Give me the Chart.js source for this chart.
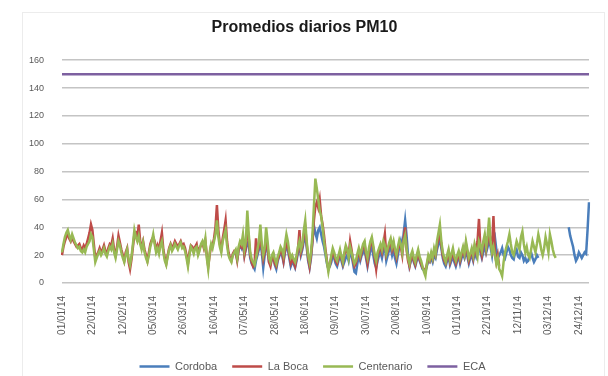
<!DOCTYPE html>
<html>
<head>
<meta charset="utf-8">
<script src="https://cdn.jsdelivr.net/npm/chart.js@4/dist/chart.umd.min.js"></script>
<style>
  html, body { margin: 0; padding: 0; background: #fff; }
  #wrap { width: 608px; height: 376px; }
</style>
</head>
<body>
<div id="wrap"><canvas id="graficoPM10" width="608" height="376"></canvas></div>
<script>
// Promedios diarios de PM10 (ug/m3) por estación, año 2014
const centenario = [
  22, 28, 33, 36, 38, 34, 31, 35, 32, 29,
  27, 25, 26, 23, 22, 24, 22, 26, 28, 30,
  35, 33, 24, 15, 18, 21, 23, 20, 22, 25,
  21, 19, 23, 26, 24, 28, 22, 18, 24, 30,
  27, 22, 18, 15, 20, 24, 17, 13, 19, 28,
  38, 33, 30, 34, 28, 24, 29, 22, 18, 15,
  20, 26, 30, 35, 28, 22, 25, 21, 27, 30,
  22, 16, 13, 19, 24, 27, 23, 25, 28, 26,
  24, 27, 29, 25, 26, 23, 18, 12, 20, 26,
  24, 21, 25, 26, 20, 23, 28, 30, 26, 32,
  18, 10, 22, 28, 25, 30, 35, 45, 33, 26,
  22, 30, 34, 38, 27, 20, 17, 15, 20, 22,
  24, 18, 26, 30, 28, 35, 24, 30, 52, 35,
  22, 17, 15, 13, 18, 24, 30, 42, 28, 20,
  25, 40, 30, 18, 15, 20, 22, 17, 14, 19,
  22, 26, 24, 20, 28, 35, 30, 22, 18, 20,
  17, 15, 20, 26, 30, 24, 28, 38, 45, 30,
  20, 15, 22, 35, 55, 75, 68, 60, 52, 48,
  40, 30, 22, 15, 8, 14, 20, 25, 22, 18,
  16, 20, 24, 19, 15, 22, 27, 24, 18, 26,
  22, 18, 14, 16, 21, 25, 20, 24, 28, 30,
  22, 18, 25, 30, 33, 27, 20, 16, 22, 25,
  28, 24, 30, 27, 21, 25, 29, 32, 26, 30,
  24, 20, 26, 31, 28, 22, 30, 34, 25, 18,
  14, 20, 23, 18, 15, 20, 24, 19, 16, 12,
  8, 5, 14, 20, 17, 22, 18, 25, 21, 30,
  36, 42, 30, 22, 18, 15, 20, 24, 17, 21,
  25, 19, 16, 20, 23, 18, 22, 26, 21, 30,
  24, 18, 21, 25, 20, 28, 24, 19, 30, 27,
  23, 30, 35, 26, 34, 47, 30, 22, 26, 20,
  14, 18, 10, 8, 5, 15, 22, 26, 30, 35,
  28, 22, 20, 25, 30, 27, 24, 33, 37, 28,
  22, 26, 20, 18, 24, 30, 26, 22, 28, 35,
  30, 24, 20, 25, 33, 28, 22, 35, 30, 24,
  20, 18
];

const laBoca = [
  20, 26, 30, 33, 36, 32, 30, 33, 30, 28,
  26, 27, 28, 25, 24, 27, 25, 28, 32, 36,
  42, 38, 28, 18, 20, 22, 25, 22, 24, 27,
  23, 21, 25, 28, 27, 32, 24, 20, 26, 34,
  29, 24, 20, 16, 22, 25, 15, 10, 17, 26,
  35, 36, 32, 42, 30, 26, 30, 24, 20, 16,
  22, 28, 31, 33, 30, 24, 27, 23, 30, 36,
  24, 18, 14, 20, 25, 28, 25, 27, 30, 28,
  26, 28, 30, 27, 28, 25, 20, 14, 22, 27,
  26, 23, 26, 28, 22, 25, 27, 29, 25, 30,
  20, 12, 20, 27, 27, 32, 40, 56, 38, 28,
  24, 32, 38, 45, 30, 22, 18, 16, 21, 23,
  22, 16, 24, 28, 26, 30, 20, 26, 40, 32,
  20, 15, 12, 14, 32, 22, 26, 34, 25, 17,
  22, 30, 26, 15, 12, 18, 20, 14, 12, 17,
  20, 24, 22, 16, 24, 28, 26, 20, 14, 17,
  15, 12, 18, 24, 38, 22, 26, 34, 40, 28,
  18, 12, 20, 30, 45, 55, 58, 54, 60, 48,
  42, 34, 24, 16, 10, 13, 18, 22, 20, 16,
  14, 18, 22, 18, 14, 20, 25, 22, 20, 30,
  24, 16, 12, 14, 19, 23, 18, 22, 26, 28,
  20, 14, 22, 28, 30, 25, 18, 10, 20, 23,
  26, 22, 28, 35, 20, 23, 27, 30, 24, 28,
  22, 18, 24, 28, 26, 20, 32, 40, 24, 16,
  12, 18, 21, 16, 13, 18, 22, 17, 14, 11,
  10, 9, 13, 18, 16, 20, 17, 23, 20, 27,
  32, 36, 28, 20, 16, 14, 18, 22, 15, 19,
  22, 17, 14, 18, 21, 16, 20, 24, 20, 28,
  22, 16, 20, 23, 18, 26, 22, 30, 46, 25,
  20, 28, 32, 24, 30, 40, 28, 24, 48, 22,
  15, 20, 12
];

// Córdoba empieza a medir en mayo y tiene un corte en diciembre
const cordoba = [
  null, null, null, null, null, null, null, null, null, null,
  null, null, null, null, null, null, null, null, null, null,
  null, null, null, null, null, null, null, null, null, null,
  null, null, null, null, null, null, null, null, null, null,
  null, null, null, null, null, null, null, null, null, null,
  null, null, null, null, null, null, null, null, null, null,
  null, null, null, null, null, null, null, null, null, null,
  null, null, null, null, null, null, null, null, null, null,
  null, null, null, null, null, null, null, null, null, null,
  null, null, null, null, null, null, null, null, null, null,
  null, null, null, null, null, null, null, null, null, null,
  null, null, null, null, null, null, null, null, 20, 22,
  22, 17, 24, 27, 25, 30, 20, 24, 29, 28,
  18, 14, 12, 10, 16, 20, 24, 30, 22, 11,
  20, 28, 24, 15, 14, 17, 19, 13, 10, 16,
  19, 22, 20, 15, 22, 26, 24, 18, 12, 15,
  14, 11, 16, 22, 28, 20, 24, 30, 35, 26,
  16, 11, 18, 30, 41, 36, 32, 38, 40, 35,
  30, 26, 20, 14, 10, 12, 15, 20, 18, 14,
  12, 16, 20, 16, 12, 15, 18, 20, 16, 22,
  20, 14, 8, 7, 14, 20, 16, 20, 22, 24,
  18, 12, 18, 24, 26, 20, 14, 11, 16, 20,
  22, 18, 24, 26, 16, 20, 24, 26, 20, 24,
  18, 14, 20, 26, 30, 24, 36, 45, 34, 20,
  12, 16, 20, 15, 12, 16, 20, 16, 13, 10,
  9, 8, 12, 16, 15, 18, 15, 20, 18, 24,
  28, 32, 25, 18, 14, 12, 16, 20, 13, 16,
  20, 15, 12, 16, 20, 14, 18, 21, 18, 22,
  19, 14, 18, 20, 16, 22, 19, 24, 30, 22,
  18, 22, 28, 22, 26, 33, 26, 20, 30, 33,
  24, 18, 20, 22, 25, 20, 18, 22, 26, 24,
  20, 18, 17, 22, 24, 19, 18, 22, 20, 16,
  18, 15, 16, 20, 22, 18, 15, 17, 20, 18,
  null, null, null, null, null, null, null, null, null, null,
  null, null, null, null, null, null, null, null, null, null,
  40, 34, 30, 26, 20, 16, 18, 22, 20, 18,
  20, 22, 21, 38, 58
];

// Norma ECA (150 ug/m3 diario)
const limiteECA = 150;
const pasoEtiquetas = 21;   // una etiqueta cada 3 semanas

const dias = [];
for (let d = new Date(2014, 0, 1); d.getFullYear() === 2014; d.setDate(d.getDate() + 1)) {
  const dd = String(d.getDate()).padStart(2, '0');
  const mm = String(d.getMonth() + 1).padStart(2, '0');
  dias.push(dd + '/' + mm + '/14');
}
const eca = dias.map(() => limiteECA);

const gris = '#595959';
Chart.defaults.font.family = "'Liberation Sans', Arial, sans-serif";
Chart.defaults.color = gris;

// marco claro alrededor del gráfico; título y leyenda centrados en el lienzo
const marco = {
  id: 'marco',
  afterLayout(chart) {
    chart.titleBlock.left += 10;
    chart.titleBlock.right += 10;
    chart.legend.left += 18;
    chart.legend.right += 18;
  },
  beforeDraw(chart) {
    const c = chart.ctx;
    c.save();
    c.strokeStyle = '#ececec';
    c.lineWidth = 1;
    c.strokeRect(22.5, 12.5, 582, 370);
    c.restore();
  }
};

function serie(nombre, datos, color, orden) {
  return {
    label: nombre,
    data: datos,
    borderColor: color,
    backgroundColor: color,
    borderWidth: 2.5,
    pointRadius: 0,
    tension: 0,
    spanGaps: false,
    order: orden
  };
}

new Chart(document.getElementById('graficoPM10'), {
  type: 'line',
  data: {
    labels: dias,
    datasets: [
      serie('Cordoba', cordoba, '#4a7ebb', 3),
      serie('La Boca', laBoca, '#be4b48', 2),
      serie('Centenario', centenario, '#98b954', 1),
      serie('ECA', eca, '#7d60a0', 0)
    ]
  },
  options: {
    responsive: false,
    animation: false,
    layout: { padding: { left: 0, right: 19, top: 21, bottom: -6 } },
    plugins: {
      title: {
        display: true,
        text: 'Promedios diarios PM10',
        color: '#1a1a1a',
        font: { size: 16, weight: 'bold' },
        padding: { top: -3, bottom: 23 }
      },
      legend: {
        position: 'bottom',
        labels: {
          usePointStyle: true,
          pointStyle: 'line',
          pointStyleWidth: 30,
          font: { size: 11 },
          padding: 15,
          sort: (a, b) => a.datasetIndex - b.datasetIndex
        }
      },
      tooltip: { enabled: false }
    },
    scales: {
      x: {
        grid: { display: false },
        border: { display: false },
        afterFit: s => { s.height = 63; },
        ticks: {
          autoSkip: false,
          minRotation: 90,
          maxRotation: 90,
          padding: 5,
          font: { size: 10 },
          callback: function (v, i) {
            return i % pasoEtiquetas === 0 ? this.getLabelForValue(v) : null;
          }
        }
      },
      y: {
        min: 0,
        max: 160,
        afterFit: s => { s.width = 62; },
        border: { display: false },
        grid: { color: '#c4c4c4', lineWidth: 1.5, drawTicks: false },
        ticks: { stepSize: 20, padding: 18, font: { size: 9 } }
      }
    }
  },
  plugins: [marco]
});
</script>
</body>
</html>
